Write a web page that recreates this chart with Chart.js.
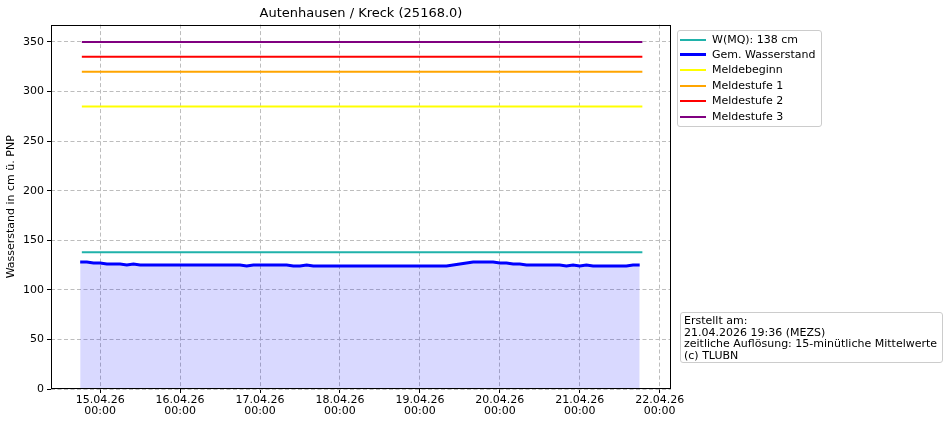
<!DOCTYPE html>
<html>
<head>
<meta charset="utf-8">
<script src="https://cdn.jsdelivr.net/npm/chart.js@4.4.1/dist/chart.umd.min.js"></script>
<style>
  body { margin: 0; background: #fff; font-family: 'DejaVu Sans', sans-serif; }
  #wrap { position: relative; width: 948px; height: 426px; }
  #chart { position: absolute; left: 0; top: 0; }
  .box { position: absolute; box-sizing: border-box; background: rgba(255,255,255,0.8);
         border: 1px solid #cccccc; border-radius: 3px; font-size: 11px; color: #000; }
  .zeile { position: absolute; left: 0; height: 14px; width: 100%; }
  .muster { position: absolute; left: 2px; width: 26px; }
  .name { position: absolute; left: 34px; top: 0; line-height: 14px; white-space: nowrap; }
  #info { padding: 2px 0 0 3px; line-height: 11.7px; white-space: nowrap; }
</style>
</head>
<body>
<div id="wrap">
  <canvas id="chart" width="948" height="426"></canvas>
  <div id="legende" class="box" style="left:677px; top:30px; width:145px; height:97px;"></div>
  <div id="info" class="box" style="left:680px; top:312px; width:263px; height:51px;"></div>
</div>
<script>
// Messwerte (Wasserstand in cm), alle 2 Stunden ab 14.04.26 18:00
const startStunde = -6;   // Stunden relativ zu 15.04.26 00:00
const schritt = 2;
const wasserstand = [
  128, 128, 127, 127, 126, 126, 126, 125, 126, 125,
  125, 125, 125, 125, 125, 125, 125, 125, 125, 125,
  125, 125, 125, 125, 125, 124, 125, 125, 125, 125,
  125, 125, 124, 124, 125, 124, 124, 124, 124, 124,
  124, 124, 124, 124, 124, 124, 124, 124, 124, 124,
  124, 124, 124, 124, 124, 124, 125, 126, 127, 128,
  128, 128, 128, 127, 127, 126, 126, 125, 125, 125,
  125, 125, 125, 124, 125, 124, 125, 124, 124, 124,
  124, 124, 124, 125, 125
];

// Kennwerte / Meldestufen
const stufenNamen = ['W(MQ): 138 cm', 'Meldebeginn', 'Meldestufe 1', 'Meldestufe 2', 'Meldestufe 3'];
const stufenWerte = [138, 285, 320, 335, 350];
const stufenVon = -5.5;
const stufenBis = 162.8;

// Achsen
const xTicks = [0, 24, 48, 72, 96, 120, 144, 168];
const xTickDaten = ['15.04.26', '16.04.26', '17.04.26', '18.04.26', '19.04.26', '20.04.26', '21.04.26', '22.04.26'];
const yTicks = [0, 50, 100, 150, 200, 250, 300, 350];

const infoZeilen = ['Erstellt am:', '21.04.2026 19:36 (MEZS)', 'zeitliche Auflösung: 15-minütliche Mittelwerte', '(c) TLUBN'];

const stufenFarben = ['#20b2aa', '#ffff00', '#ffa500', '#ff0000', '#800080'];
const schrift = 'DejaVu Sans';

const punkte = wasserstand.map((w, i) => ({ x: startStunde + i * schritt, y: w }));

const datasets = [];
// W(MQ) zuerst, dann gemessener Wasserstand, dann Meldestufen (wie Legende)
datasets.push({
  label: stufenNamen[0],
  data: [{ x: stufenVon, y: stufenWerte[0] }, { x: stufenBis, y: stufenWerte[0] }],
  borderColor: stufenFarben[0], borderWidth: 2, pointRadius: 0, fill: false
});
datasets.push({
  label: 'Gem. Wasserstand',
  data: punkte,
  borderColor: '#0000ff', borderWidth: 3, pointRadius: 0, tension: 0,
  fill: 'origin', backgroundColor: 'rgba(0,0,255,0.15)'
});
for (let i = 1; i < stufenNamen.length; i++) {
  datasets.push({
    label: stufenNamen[i],
    data: [{ x: stufenVon, y: stufenWerte[i] }, { x: stufenBis, y: stufenWerte[i] }],
    borderColor: stufenFarben[i], borderWidth: 2, pointRadius: 0, fill: false
  });
}

// Rahmen um die Zeichenfläche
const rahmen = {
  id: 'rahmen',
  afterDatasetsDraw(chart) {
    const { ctx, chartArea: a } = chart;
    ctx.save();
    ctx.strokeStyle = '#000';
    ctx.lineWidth = 1;
    const l = Math.round(a.left) + 0.5, t = Math.round(a.top) + 0.5;
    const r = Math.round(a.right) - 0.5, b = Math.round(a.bottom) - 0.5;
    ctx.strokeRect(l, t, r - l, b - t);
    ctx.restore();
  }
};

new Chart(document.getElementById('chart').getContext('2d'), {
  type: 'line',
  data: { datasets: datasets },
  options: {
    responsive: false,
    animation: false,
    layout: { padding: { left: 0, right: 277, top: 0, bottom: 0 } },
    plugins: {
      legend: { display: false },
      tooltip: { enabled: false },
      title: {
        display: true,
        text: 'Autenhausen / Kreck (25168.0)',
        color: '#000',
        font: { family: schrift, size: 13, weight: 'normal' },
        padding: { top: 6, bottom: 3 },
        fullSize: false
      }
    },
    scales: {
      x: {
        type: 'linear',
        min: -14.76,
        max: 171.4,
        afterBuildTicks: s => { s.ticks = xTicks.map(v => ({ value: v })); },
        afterFit: s => { s.height = 37; s.paddingLeft = 0; s.paddingRight = 0; },
        ticks: {
          autoSkip: false, maxRotation: 0, color: '#000', padding: 2,
          font: { family: schrift, size: 11, lineHeight: 1 },
          callback: (v, i) => [xTickDaten[i], '00:00']
        },
        grid: { color: '#bdbdbd', tickColor: '#000', tickLength: 4, lineWidth: 1 },
        border: { display: false, dash: [4, 2.5] }
      },
      y: {
        min: 0,
        max: 367.5,
        afterBuildTicks: s => { s.ticks = yTicks.map(v => ({ value: v })); },
        afterFit: s => { s.width = 51; s.paddingTop = 0; s.paddingBottom = 0; },
        ticks: { color: '#000', padding: 3, font: { family: schrift, size: 11 } },
        grid: { color: '#bdbdbd', tickColor: '#000', tickLength: 4, lineWidth: 1 },
        border: { display: false, dash: [4, 2.5] },
        title: {
          display: true, text: 'Wasserstand in cm ü. PNP', color: '#000',
          font: { family: schrift, size: 11 }, padding: { top: 5, bottom: 0 }
        }
      }
    }
  },
  plugins: [rahmen]
});

// Legende (rechts neben dem Diagramm)
const legende = document.getElementById('legende');
const legEintraege = [
  { name: stufenNamen[0], farbe: stufenFarben[0], breite: 2 },
  { name: 'Gem. Wasserstand', farbe: '#0000ff', breite: 3 },
  { name: stufenNamen[1], farbe: stufenFarben[1], breite: 2 },
  { name: stufenNamen[2], farbe: stufenFarben[2], breite: 2 },
  { name: stufenNamen[3], farbe: stufenFarben[3], breite: 2 },
  { name: stufenNamen[4], farbe: stufenFarben[4], breite: 2 }
];
legEintraege.forEach((e, i) => {
  const z = document.createElement('div');
  z.className = 'zeile';
  z.style.top = (1.5 + i * 15.4) + 'px';
  const m = document.createElement('span');
  m.className = 'muster';
  m.style.background = e.farbe;
  m.style.height = e.breite + 'px';
  m.style.top = (7 - e.breite / 2) + 'px';
  const t = document.createElement('span');
  t.className = 'name';
  t.textContent = e.name;
  z.appendChild(m);
  z.appendChild(t);
  legende.appendChild(z);
});

document.getElementById('info').innerHTML = infoZeilen.map(s => '<div>' + s + '</div>').join('');
</script>
</body>
</html>
